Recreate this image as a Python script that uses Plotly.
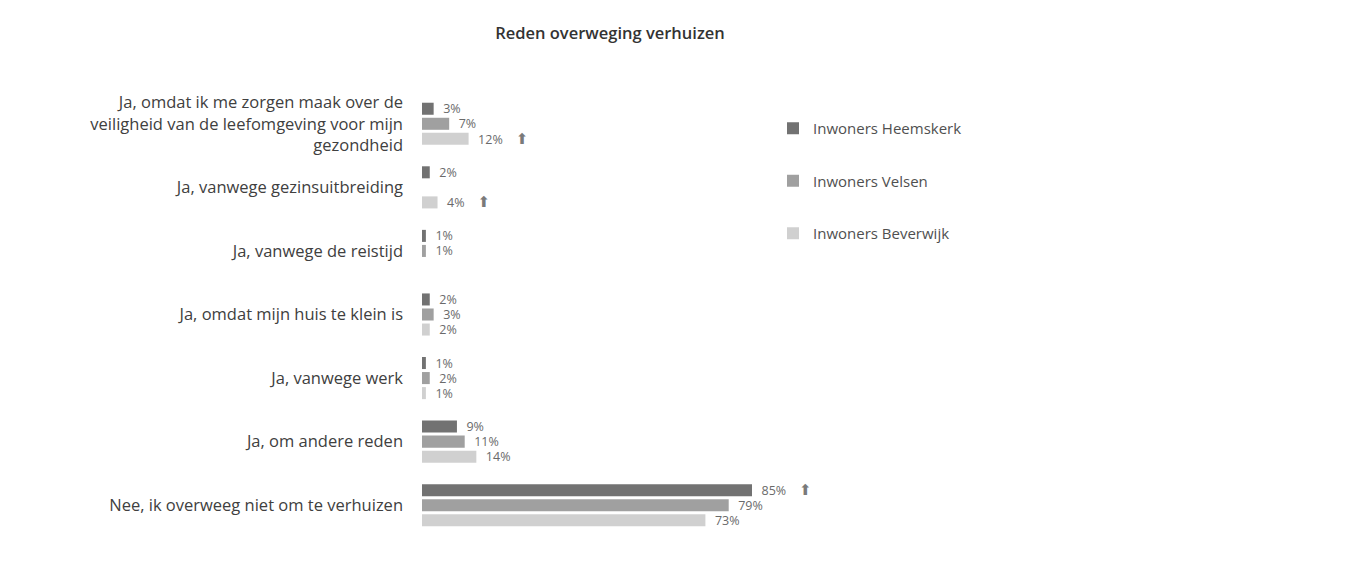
import plotly.graph_objects as go

categories = [
    "Ja, omdat ik me zorgen maak over de<br>veiligheid van de leefomgeving voor mijn<br>gezondheid",
    "Ja, vanwege gezinsuitbreiding",
    "Ja, vanwege de reistijd",
    "Ja, omdat mijn huis te klein is",
    "Ja, vanwege werk",
    "Ja, om andere reden",
    "Nee, ik overweeg niet om te verhuizen",
]
series_names = ["Inwoners Heemskerk", "Inwoners Velsen", "Inwoners Beverwijk"]
heemskerk = [3, 2, 1, 2, 1, 9, 85]
velsen = [7, None, 1, 3, 2, 11, 79]
beverwijk = [12, 4, None, 2, 1, 14, 73]
heemskerk_up = [False, False, False, False, False, False, True]
velsen_up = [False] * 7
beverwijk_up = [True, True, False, False, False, False, False]

colors = ["#727272", "#a0a0a0", "#d0d0d0"]
series = [heemskerk, velsen, beverwijk]
ups = [heemskerk_up, velsen_up, beverwijk_up]

fig = go.Figure()
for i, (name, vals, up) in enumerate(zip(series_names, series, ups)):
    texts = []
    for v, u in zip(vals, up):
        if v is None:
            texts.append("")
        else:
            t = f"  {v}%"
            if u:
                t += "    <span style='font-family:DejaVu Sans;font-size:15px;color:#7a7a7a'>⬆</span>"
            texts.append(t)
    fig.add_trace(go.Bar(
        y=categories, x=vals, orientation="h", name=name,
        marker=dict(color=colors[i], line=dict(width=0)),
        text=texts, textposition="outside", cliponaxis=False, constraintext="none",
        textfont=dict(size=12.5, color="#6a6a6a", family="Open Sans"),
        legendgroup=name,
    ))

W = 1370
H = 573
left = 422
top = 92
bottom = 36
fig.update_layout(
    width=W, height=H,
    barmode="group", bargap=0.29, bargroupgap=0.2,
    plot_bgcolor="white", paper_bgcolor="white",
    margin=dict(l=left, r=0, t=top, b=bottom),
    font=dict(family="Open Sans", color="#404040"),
    showlegend=True,
    legend=dict(x=(773 - left) / (W - left), y=(H - bottom - 112) / (H - top - bottom),
                xanchor="left", yanchor="top",
                font=dict(size=15, color="#505050", family="Open Sans"), tracegroupgap=30,
                itemwidth=30, bgcolor="rgba(0,0,0,0)"),
    title=dict(text="Reden overweging verhuizen", x=610 / W, xanchor="center", y=1 - 33 / H, yanchor="middle",
               font=dict(size=16.5, color="#333333", family="Open Sans", weight=600)),
)
fig.update_xaxes(domain=[0, 330 / (W - left)], range=[0, 85], visible=False)
fig.update_yaxes(autorange="reversed", showline=False, showgrid=False, ticks="", automargin=False,
                 ticklabelstandoff=18, tickfont=dict(size=16.5, color="#404040", family="Open Sans"))

fig.write_html("out.html", post_script="document.body.style.margin='0';",
               config={"displayModeBar": False})
